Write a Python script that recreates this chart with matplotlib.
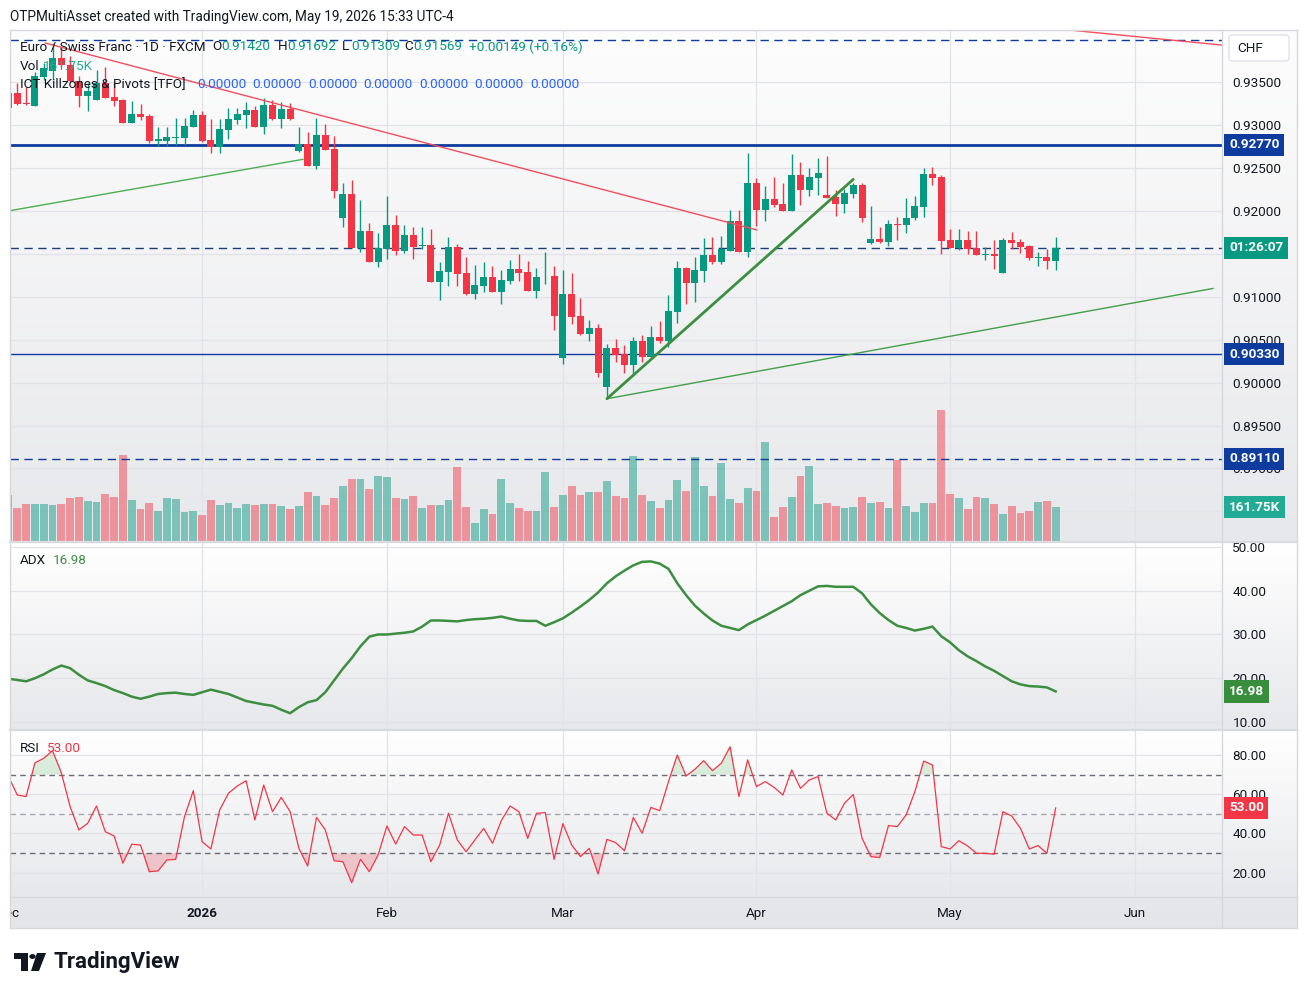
import numpy as np
import pandas as pd
import matplotlib
matplotlib.use("Agg")
import matplotlib.pyplot as plt
import matplotlib.colors as mcolors
from matplotlib.transforms import blended_transform_factory as blend
from matplotlib.patches import Rectangle, FancyBboxPatch, Polygon, Circle
from matplotlib.lines import Line2D

plt.rcParams['font.family'] = ['Roboto', 'DejaVu Sans']

# ------------------------------------------------------------------ data
dates = [d for d in pd.bdate_range('2025-12-01', '2026-05-19')
         if not ((d.month == 12 and d.day == 25) or (d.month == 1 and d.day == 1))]

opens = [0.93201, 0.93379, 0.93253, 0.93227, 0.93565, 0.93635, 0.93780, 0.93702, 0.93519, 0.93340,
         0.93294, 0.93488, 0.93332, 0.93294, 0.93029, 0.93131, 0.93107, 0.92819, 0.92819, 0.92854,
         0.92847, 0.92983, 0.93119, 0.92828, 0.92749, 0.92944, 0.93061, 0.93119, 0.93177, 0.92983,
         0.93235, 0.93072, 0.93189, 0.92703, 0.92784, 0.92528, 0.92886, 0.92723, 0.91922, 0.92198,
         0.91572, 0.91767, 0.91409, 0.91554, 0.91837, 0.91537, 0.91720, 0.91592, 0.91604, 0.91176,
         0.91292, 0.91581, 0.91281, 0.91036, 0.91129, 0.91231, 0.91060, 0.91184, 0.91324, 0.91289,
         0.91068, 0.91237, 0.91242, 0.90290, 0.91033, 0.90776, 0.90570, 0.90636, 0.89952, 0.90403,
         0.90333, 0.90209, 0.90485, 0.90302, 0.90532, 0.90488, 0.90826, 0.91336, 0.91164, 0.91304,
         0.91487, 0.91409, 0.91534, 0.91883, 0.91526, 0.92326, 0.92015, 0.92140, 0.92082, 0.92000,
         0.92420, 0.92245, 0.92385, 0.92186, 0.92163, 0.92082, 0.92198, 0.92303, 0.91627, 0.91674,
         0.91639, 0.91849, 0.91837, 0.91918, 0.92047, 0.92431, 0.92396, 0.91662, 0.91569, 0.91662,
         0.91569, 0.91487, 0.91499, 0.91277, 0.91662, 0.91639, 0.91592, 0.91452, 0.91464, 0.91420]
highs = [0.93410, 0.93488, 0.93449, 0.93624, 0.93721, 0.93955, 0.93915, 0.93807, 0.93577, 0.93488,
         0.93643, 0.93682, 0.93507, 0.93300, 0.93282, 0.93247, 0.93131, 0.92976, 0.92976, 0.93080,
         0.93087, 0.93177, 0.93166, 0.93069, 0.93069, 0.93197, 0.93197, 0.93274, 0.93224, 0.93317,
         0.93294, 0.93274, 0.93255, 0.92983, 0.92924, 0.93087, 0.93014, 0.92874, 0.92323, 0.92361,
         0.92128, 0.91857, 0.91740, 0.92175, 0.91953, 0.91837, 0.91817, 0.91817, 0.91790, 0.91402,
         0.91701, 0.91615, 0.91467, 0.91371, 0.91406, 0.91359, 0.91312, 0.91429, 0.91502, 0.91421,
         0.91336, 0.91522, 0.91362, 0.91312, 0.91281, 0.90986, 0.90730, 0.90683, 0.90450, 0.90508,
         0.90438, 0.90532, 0.90555, 0.90660, 0.90718, 0.91021, 0.91417, 0.91351, 0.91467, 0.91685,
         0.91697, 0.91709, 0.92012, 0.92012, 0.92676, 0.92385, 0.92291, 0.92396, 0.92326, 0.92664,
         0.92571, 0.92501, 0.92618, 0.92641, 0.92245, 0.92256, 0.92326, 0.92326, 0.92058, 0.91814,
         0.91895, 0.91930, 0.92152, 0.92175, 0.92501, 0.92513, 0.92420, 0.91790, 0.91790, 0.91767,
         0.91767, 0.91581, 0.91662, 0.91685, 0.91755, 0.91674, 0.91604, 0.91522, 0.91557, 0.91692]
lows = [0.93142, 0.93235, 0.93235, 0.93220, 0.93527, 0.93527, 0.93680, 0.93504, 0.93216, 0.93169,
        0.93290, 0.93315, 0.93227, 0.93026, 0.93025, 0.93061, 0.92796, 0.92758, 0.92758, 0.92769,
        0.92769, 0.92980, 0.92808, 0.92673, 0.92679, 0.92836, 0.93014, 0.92964, 0.92979, 0.92897,
        0.93066, 0.92971, 0.93061, 0.92691, 0.92525, 0.92490, 0.92708, 0.92155, 0.91817, 0.91568,
        0.91526, 0.91405, 0.91351, 0.91444, 0.91487, 0.91514, 0.91441, 0.91554, 0.91172, 0.90960,
        0.91129, 0.91129, 0.91021, 0.90974, 0.91060, 0.91056, 0.90916, 0.91149, 0.91184, 0.91064,
        0.90986, 0.91149, 0.90613, 0.90217, 0.90680, 0.90555, 0.90488, 0.90069, 0.89812, 0.90244,
        0.90108, 0.90080, 0.90244, 0.90295, 0.90458, 0.90418, 0.90698, 0.90916, 0.90943, 0.91176,
        0.91382, 0.91382, 0.91530, 0.91520, 0.91467, 0.91825, 0.91887, 0.92047, 0.91995, 0.91995,
        0.92070, 0.92175, 0.92186, 0.92148, 0.91942, 0.91977, 0.92152, 0.91872, 0.91620, 0.91627,
        0.91592, 0.91662, 0.91744, 0.91895, 0.91930, 0.92303, 0.91502, 0.91565, 0.91545, 0.91499,
        0.91483, 0.91429, 0.91324, 0.91273, 0.91557, 0.91510, 0.91429, 0.91359, 0.91324, 0.91309]
closes = [0.93375, 0.93244, 0.93244, 0.93573, 0.93663, 0.93780, 0.93702, 0.93519, 0.93340, 0.93402,
          0.93488, 0.93321, 0.93282, 0.93029, 0.93131, 0.93099, 0.92819, 0.92836, 0.92859, 0.92866,
          0.92991, 0.93119, 0.92819, 0.92749, 0.92952, 0.93072, 0.93131, 0.93177, 0.92983, 0.93235,
          0.93072, 0.93189, 0.93072, 0.92784, 0.92528, 0.92886, 0.92711, 0.92237, 0.92198, 0.91572,
          0.91767, 0.91409, 0.91569, 0.91837, 0.91537, 0.91720, 0.91584, 0.91604, 0.91176, 0.91301,
          0.91581, 0.91269, 0.91036, 0.91138, 0.91231, 0.91060, 0.91196, 0.91324, 0.91281, 0.91068,
          0.91231, 0.91242, 0.90780, 0.91033, 0.90768, 0.90570, 0.90636, 0.90115, 0.90403, 0.90325,
          0.90209, 0.90485, 0.90302, 0.90532, 0.90488, 0.90835, 0.91336, 0.91164, 0.91312, 0.91487,
          0.91409, 0.91557, 0.91883, 0.91526, 0.92326, 0.92015, 0.92140, 0.92070, 0.92000, 0.92420,
          0.92245, 0.92396, 0.92443, 0.92152, 0.92082, 0.92210, 0.92303, 0.91918, 0.91674, 0.91639,
          0.91849, 0.91837, 0.91918, 0.92058, 0.92431, 0.92385, 0.91650, 0.91569, 0.91662, 0.91557,
          0.91487, 0.91499, 0.91480, 0.91662, 0.91627, 0.91581, 0.91452, 0.91464, 0.91417, 0.91569]
volume_k = [220, 159, 178, 178, 178, 173, 178, 206, 211, 192,
            187, 225, 211, 404, 196, 154, 182, 145, 206, 201,
            140, 145, 126, 196, 173, 182, 159, 178, 173, 178,
            178, 168, 154, 168, 234, 215, 173, 206, 258, 291,
            295, 248, 305, 300, 206, 201, 215, 159, 173, 173,
            196, 347, 163, 88, 154, 130, 291, 182, 159, 145,
            145, 325, 162, 219, 258, 219, 234, 234, 282, 214,
            205, 402, 219, 190, 157, 195, 286, 238, 397, 258,
            214, 368, 200, 181, 253, 238, 464, 114, 162, 210,
            306, 354, 176, 181, 166, 157, 162, 210, 181, 186,
            157, 383, 166, 138, 181, 181, 613, 224, 205, 152,
            210, 205, 176, 128, 166, 133, 142, 186, 190, 161.75]
adx = [19.9, 19.6, 19.3, 20.0, 20.9, 22.0, 22.9, 22.3, 20.8, 19.5,
       18.9, 18.2, 17.3, 16.6, 15.8, 15.3, 15.8, 16.4, 16.6, 16.7,
       16.4, 16.2, 16.8, 17.4, 16.9, 16.4, 15.6, 14.8, 14.4, 14.0,
       13.7, 12.8, 12.0, 13.4, 14.5, 15.0, 16.8, 19.5, 22.2, 24.6,
       27.3, 29.5, 30.0, 30.0, 30.2, 30.4, 30.7, 31.8, 33.2, 33.2,
       33.1, 33.0, 33.3, 33.5, 33.6, 33.8, 34.1, 33.6, 33.2, 33.1,
       33.1, 32.0, 32.8, 33.7, 35.0, 36.4, 37.9, 39.6, 41.7, 43.3,
       44.6, 45.8, 46.6, 46.7, 46.2, 45.0, 41.7, 39.0, 36.6, 34.8,
       33.2, 32.0, 31.5, 31.0, 32.3, 33.3, 34.3, 35.4, 36.5, 37.6,
       39.0, 40.0, 41.0, 41.1, 40.9, 40.9, 40.9, 39.4, 36.9, 34.9,
       33.3, 32.0, 31.5, 30.9, 31.3, 31.8, 29.6, 28.2, 26.4, 25.0,
       23.9, 22.7, 21.7, 20.5, 19.3, 18.6, 18.2, 18.1, 17.9, 16.98]
rsi = [69.0, 59.6, 58.8, 76.0, 78.3, 82.2, 71.0, 53.7, 41.8, 45.2,
       54.0, 40.9, 38.7, 24.8, 34.5, 34.1, 20.5, 20.9, 26.5, 26.8,
       48.6, 61.8, 35.8, 32.1, 52.0, 60.5, 64.2, 66.9, 46.9, 64.7,
       51.1, 58.4, 51.1, 32.4, 23.4, 48.2, 41.8, 26.1, 25.6, 14.9,
       26.8, 20.5, 29.0, 43.8, 34.6, 43.5, 39.2, 39.2, 25.6, 34.1,
       50.3, 36.7, 30.7, 36.7, 42.6, 35.0, 46.5, 54.0, 51.1, 37.5,
       50.3, 50.6, 26.8, 45.0, 34.1, 28.2, 32.4, 19.3, 37.0, 35.3,
       31.2, 48.2, 40.1, 53.3, 51.6, 66.4, 80.0, 69.3, 72.7, 77.1,
       72.0, 75.8, 84.2, 58.8, 77.5, 63.9, 66.4, 63.5, 59.6, 72.4,
       63.0, 67.3, 69.0, 50.3, 46.9, 55.4, 59.9, 37.5, 28.2, 27.7,
       44.0, 43.5, 49.4, 61.3, 76.9, 74.9, 33.3, 32.1, 36.3, 33.6,
       29.9, 29.9, 29.4, 51.1, 48.9, 42.6, 32.1, 33.8, 29.9, 53.0]

month_names = ['Dec', '2026', 'Feb', 'Mar', 'Apr', 'May', 'Jun']
price_ticks = [0.935, 0.930, 0.925, 0.920, 0.915, 0.910, 0.905, 0.900, 0.895, 0.890, 0.885]
price_tick_labels = ['0.93500', '0.93000', '0.92500', '0.92000', '', '0.91000',
                     '0.90500', '0.90000', '0.89500', '0.89000', '']
adx_ticks = [50, 40, 30, 20, 10]
rsi_ticks = [80, 60, 40, 20]
level_solid_thick = 0.92770
level_solid = 0.90330
level_dashed = [0.89110, 0.93990]
level_price_line = 0.91569
red_trend = [(4.15, 0.93958), (85.06, 0.91779)]
red_trend_top = [(119.0, 0.94125), (138.0, 0.93933)]
green_thin_a = [(0.17, 0.92004), (33.5, 0.92603)]
green_thick = [(68.0, 0.89812), (96.0, 0.92369)]
green_thin_b = [(68.0, 0.89812), (136.9, 0.91098)]

# ------------------------------------------------------------------ setup
W, H = 1308, 996
fig = plt.figure(figsize=(W / 100, H / 100), dpi=100)
fig.patch.set_facecolor('white')

DARK = '#131722'
UP = '#089981'
DOWN = '#f23645'
NAVY = '#0d3b9e'
GRID = '#e1e3e8'
BORDER = '#d6d8de'

idx = np.arange(len(dates))
O = np.array(opens); Hh = np.array(highs); L = np.array(lows); C = np.array(closes)
vol = np.array(volume_k)
up = C >= O

# month start indices
month_idx = []
prev = None
for i, d in enumerate(dates):
    if d.month != prev:
        month_idx.append(i)
        prev = d.month
month_idx.append(len(dates) - 1 + len(pd.bdate_range('2026-05-20', '2026-06-01')))

XMIN, XMAX = 0.17, 137.9


def ax_px(x0, y0, x1, y1):
    return fig.add_axes([x0 / W, 1 - y1 / H, (x1 - x0) / W, (y1 - y0) / H])


def bg_axes(x0, y0, x1, y1, top, bot):
    a = ax_px(x0, y0, x1, y1)
    c0 = np.array(mcolors.to_rgb(top)); c1 = np.array(mcolors.to_rgb(bot))
    t = np.linspace(0, 1, 256)[:, None, None]
    a.imshow(c0 * (1 - t) + c1 * t, aspect='auto', extent=[0, 1, 0, 1], origin='upper')
    a.set_xlim(0, 1); a.set_ylim(0, 1); a.axis('off'); a.set_zorder(0)
    return a


def ftext(x, y, s, **kw):
    kw.setdefault('va', 'center'); kw.setdefault('ha', 'left')
    kw.setdefault('fontsize', 9.7); kw.setdefault('color', DARK)
    fig.text(x / W, 1 - y / H, s, **kw)


def fline(x0, y0, x1, y1, color=BORDER, lw=1.0):
    fig.add_artist(Line2D([x0 / W, x1 / W], [1 - y0 / H, 1 - y1 / H],
                          transform=fig.transFigure, color=color, lw=lw, zorder=50))


def clean(a):
    for s in a.spines.values():
        s.set_visible(False)
    a.set_facecolor('none')


def box(ax, yval, text, color, ytrans=None, zorder=30):
    tr = blend(fig.transFigure, ytrans if ytrans is not None else ax.transData)
    ax.text(1229 / W, yval, text, transform=tr, ha='left', va='center', color='white',
            fontsize=9.7, fontweight='bold', clip_on=False, zorder=zorder,
            bbox=dict(boxstyle='square,pad=0.34', fc=color, ec='none'))


# backgrounds
bg_axes(10, 30, 1297, 542, '#fdfdfd', '#e7e8eb')
bg_axes(10, 542, 1297, 730, '#ffffff', '#e7e8eb')
bg_axes(10, 730, 1297, 897, '#ffffff', '#e7e8eb')
bg_axes(10, 897, 1297, 928, '#e6e7ea', '#e4e5e8')

# ------------------------------------------------------------------ main pane
axv = ax_px(10, 30, 1222, 542)
main = ax_px(10, 30, 1222, 542)
axv.set_zorder(1); main.set_zorder(2)
for a in (axv, main):
    clean(a)
    a.set_xlim(XMIN, XMAX)
main.set_ylim(0.881422, 0.941096)
axv.set_ylim(0, 2380)
axv.set_xticks([]); axv.set_yticks([])

# grid below volume
gtr = blend(axv.transAxes, main.transData)
for p in price_ticks:
    axv.add_line(Line2D([0, 1], [p, p], transform=gtr, color=GRID, lw=0.9, zorder=0))
for m in month_idx:
    axv.axvline(m, color=GRID, lw=0.9, zorder=0)

vcol = np.where(up, '#089981', '#f23645')
axv.bar(idx, vol, width=0.88, color=vcol, alpha=0.48, linewidth=0, zorder=2)

# candles
ccol = np.where(up, UP, DOWN)
main.vlines(idx, L, Hh, colors=ccol, lw=1.0, zorder=4)
main.bar(idx, np.maximum(np.abs(C - O), 0.000012), bottom=np.minimum(O, C), width=0.78,
         color=ccol, linewidth=0, zorder=5)

# levels
main.axhline(level_solid_thick, color=NAVY, lw=2.0, zorder=3)
main.axhline(level_solid, color=NAVY, lw=1.0, zorder=3)
for lv in level_dashed:
    main.axhline(lv, color=NAVY, lw=1.0, ls=(0, (6, 4)), zorder=3)
main.axhline(level_price_line, color='#1c3d7a', lw=1.0, ls=(0, (6, 4)), zorder=3)

# trend lines
for seg, col, lw in [(red_trend, '#f0505c', 1.0), (red_trend_top, '#f0505c', 1.0),
                     (green_thin_a, '#4caf50', 1.0), (green_thin_b, '#43a047', 1.0),
                     (green_thick, '#3d8f40', 2.0)]:
    (xa, ya), (xb, yb) = seg
    main.plot([xa, xb], [ya, yb], color=col, lw=lw, zorder=6, solid_capstyle='round')

main.set_yticks(price_ticks)
main.set_yticklabels(price_tick_labels)
main.yaxis.tick_right()
main.tick_params(axis='y', length=0, pad=7.5, labelsize=9.7, labelcolor=DARK)
main.set_xticks([])

box(main, level_solid_thick, '0.92770', NAVY)
box(main, level_price_line, '01:26:07', UP)
box(main, level_solid, '0.90330', NAVY)
box(main, level_dashed[0], '0.89110', NAVY)
box(main, vol[-1], '161.75K', '#22ab94', ytrans=axv.transData)

# ------------------------------------------------------------------ ADX pane
axa = ax_px(10, 542, 1222, 730)
clean(axa); axa.set_zorder(2)
axa.set_xlim(XMIN, XMAX); axa.set_ylim(8.17, 51.14)
for v in adx_ticks:
    axa.axhline(v, color=GRID, lw=0.9, zorder=0)
for m in month_idx:
    axa.axvline(m, color=GRID, lw=0.9, zorder=0)
axa.plot(idx, adx, color='#3d8f40', lw=1.8, zorder=3)
axa.set_yticks(adx_ticks)
axa.set_yticklabels([f'{v:.2f}' for v in adx_ticks])
axa.yaxis.tick_right()
axa.tick_params(axis='y', length=0, pad=7.5, labelsize=9.7, labelcolor=DARK)
axa.set_xticks([])
box(axa, adx[-1], f'{adx[-1]:.2f}', '#388e3c')

# ------------------------------------------------------------------ RSI pane
axr = ax_px(10, 730, 1222, 897)
clean(axr); axr.set_zorder(2)
axr.set_xlim(XMIN, XMAX); axr.set_ylim(7.61, 92.74)
for v in rsi_ticks:
    axr.axhline(v, color=GRID, lw=0.9, zorder=0)
for m in month_idx:
    axr.axvline(m, color=GRID, lw=0.9, zorder=0)
r = np.array(rsi)
axr.fill_between(idx, r, 70, where=r > 70, interpolate=True, color='#4caf50', alpha=0.18, lw=0, zorder=1)
axr.fill_between(idx, r, 30, where=r < 30, interpolate=True, color='#f23645', alpha=0.22, lw=0, zorder=1)
axr.axhline(70, color='#6b6e78', lw=1.0, ls=(0, (4, 3)), zorder=2)
axr.axhline(30, color='#6b6e78', lw=1.0, ls=(0, (4, 3)), zorder=2)
axr.axhline(50, color='#a3a6af', lw=1.0, ls=(0, (4, 3)), zorder=2)
axr.plot(idx, r, color='#f23645', lw=0.9, zorder=3)
axr.set_yticks(rsi_ticks)
axr.set_yticklabels([f'{v:.2f}' for v in rsi_ticks])
axr.yaxis.tick_right()
axr.tick_params(axis='y', length=0, pad=7.5, labelsize=9.7, labelcolor=DARK)
axr.set_xticks([])
box(axr, r[-1], f'{r[-1]:.2f}', DOWN)

# ------------------------------------------------------------------ time axis
axt = ax_px(10, 897, 1222, 928)
clean(axt); axt.set_zorder(2)
axt.set_xlim(XMIN, XMAX); axt.set_ylim(0, 1)
axt.set_xticks([]); axt.set_yticks([])
for m, name in zip(month_idx, month_names):
    axt.text(m, 0.47, name, ha='center', va='center', fontsize=9.7, color=DARK,
             fontweight='bold' if name == '2026' else 'normal', clip_on=True)

# ------------------------------------------------------------------ frame / separators
fline(10, 30, 1297, 30)
fline(10, 928, 1297, 928)
fline(10, 30, 10, 928)
fline(1297, 30, 1297, 928)
fline(1222, 30, 1222, 928)
fline(10, 542, 1297, 542, color='#d9dbe0', lw=1.6)
fline(10, 730, 1297, 730, color='#d9dbe0', lw=1.6)
fline(10, 897, 1297, 897)

# CHF box
fig.add_artist(FancyBboxPatch((1229 / W, 1 - 61 / H), 60 / W, 26 / H,
                              boxstyle='round,pad=0,rounding_size=0.003',
                              transform=fig.transFigure, fc='white', ec='#e0e3eb', lw=1, zorder=40))
ftext(1250, 48.5, 'CHF', ha='center', zorder=41)

# ------------------------------------------------------------------ texts
ftext(10, 17, 'OTPMultiAsset created with TradingView.com, May 19, 2026 15:33 UTC-4', fontsize=9.8)
ftext(20, 47, 'Euro / Swiss Franc · 1D · FXCM', zorder=60)
for x, lab, val in [(212, 'O', '0.91420'), (278, 'H', '0.91692'),
                    (342, 'L', '0.91309'), (404, 'C', '0.91569')]:
    ftext(x, 47, lab, zorder=60)
    ftext(x + 9.5, 47, val, color=UP, zorder=60)
ftext(469, 47, '+0.00149 (+0.16%)', color=UP, zorder=60)
ftext(20, 66, 'Vol', zorder=60)
ftext(43, 66, '161.75K', color='#22ab94', zorder=60)
ftext(20, 85, 'ICT Killzones & Pivots [TFO]', zorder=60)
for k in range(7):
    ftext(197 + 55.5 * k, 85, '0.00000', color='#2962ff', zorder=60)
ftext(20, 560, 'ADX', zorder=60)
ftext(53, 560, f'{adx[-1]:.2f}', color='#3d8f40', zorder=60)
ftext(20, 748, 'RSI', zorder=60)
ftext(47, 748, f'{r[-1]:.2f}', color=DOWN, zorder=60)

# TradingView logo
def P(x, y):
    return (x / W, 1 - y / H)
fig.add_artist(Polygon([P(14, 953), P(28, 953), P(28, 971), P(21, 971), P(21, 959), P(14, 959)],
                       closed=True, transform=fig.transFigure, fc=DARK, ec='none'))
fig.add_artist(Circle(P(32.5, 956.5), 3.2 / W, transform=fig.transFigure, fc=DARK, ec='none'))
fig.add_artist(Polygon([P(37, 953), P(46, 953), P(39, 971), P(31, 971)],
                       closed=True, transform=fig.transFigure, fc=DARK, ec='none'))
ftext(53, 962, 'TradingView', fontsize=16, fontweight='bold')

fig.savefig('out.png', dpi=100)
